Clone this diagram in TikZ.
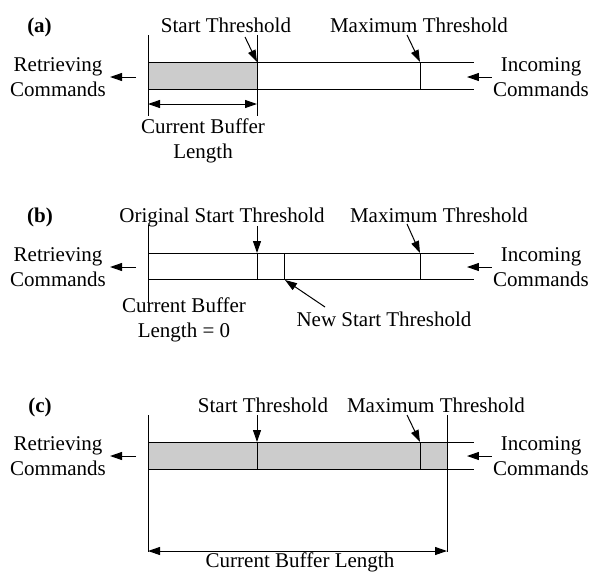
\documentclass[tikz,border=0pt]{standalone}
\usepackage{fontspec}
\setmainfont{Liberation Serif}
\usepackage{tikz}
\usetikzlibrary{arrows.meta,positioning}
\definecolor{bufgray}{RGB}{204,204,204}
\tikzstyle{txt} = [font=\fontsize{21}{24.5}\selectfont, inner sep=0pt, align=center]
\tikzstyle{tag} = [txt, font=\fontsize{21}{24.5}\selectfont\bfseries, anchor=base]
\tikzstyle{wall} = [line width=1pt]
\tikzstyle{filled} = [fill=bufgray]
\tikzstyle{arrow} = [line width=1pt, -{Triangle[length=12pt,width=8pt]}]
\tikzstyle{dimarrow} = [line width=1pt, {Triangle[length=12pt,width=8pt]}-{Triangle[length=12pt,width=8pt]}]
\begin{document}
\begin{tikzpicture}[x=1pt, y=-1pt]
                \useasboundingbox (0,0) rectangle (591,571);

                % ---------------- (a) ----------------
                \node[tag] (a-tag) at (39.5,32) {(a)};
                \node[txt, anchor=base] (a-start) at (226,32) {Start Threshold};
                \node[txt, anchor=base] (a-max) at (419,32) {Maximum Threshold};
                \node[txt] (a-ret) at (58,77) {Retrieving\\Commands};
                \node[txt] (a-inc) at (541,77) {Incoming\\Commands};
                \node[txt] (a-len) at (203,141) {Current Buffer\\Length};

                % buffer
                \fill[filled] (148,62) rectangle (257,89);
                \draw[wall] (148,62) -- (474,62);
                \draw[wall] (148,89) -- (474,89);
                \draw[wall] (148,35) -- (148,116);
                \draw[wall] (257,35) -- (257,116);
                \draw[wall] (420,62) -- (420,89);
                \coordinate (a-st) at (257,62);
                \coordinate (a-mt) at (420,62);
                \coordinate (a-st-from) at (245,37);
                \coordinate (a-mt-from) at (407,35);
                \coordinate (a-len-l) at (148,104);
                \coordinate (a-len-r) at (257,104);

                % arrows
                \draw[arrow] ([xshift=30pt]a-ret.east) -- ([xshift=4pt]a-ret.east);
                \draw[arrow] ([xshift=-1pt]a-inc.west) -- ([xshift=-26pt]a-inc.west);
                \draw[arrow] (a-st-from) -- (a-st);
                \draw[arrow] (a-mt-from) -- (a-mt);
                \draw[dimarrow] (a-len-l) -- (a-len-r);

                % ---------------- (b) ----------------
                \node[tag] (b-tag) at (40,222) {(b)};
                \node[txt, anchor=base] (b-start) at (222,222) {Original Start Threshold};
                \node[txt, anchor=base] (b-max) at (439,222) {Maximum Threshold};
                \node[txt] (b-ret) at (58,267) {Retrieving\\Commands};
                \node[txt] (b-inc) at (541,267) {Incoming\\Commands};
                \node[txt] (b-len) at (184,320) {Current Buffer\\Length = 0};
                \node[txt, anchor=base] (b-new) at (384,326) {New Start Threshold};

                % buffer
                \draw[wall] (148,253) -- (474,253);
                \draw[wall] (148,279) -- (474,279);
                \draw[wall] (148,225) -- (148,303);
                \draw[wall] (257,253) -- (257,279);
                \draw[wall] (284,253) -- (284,279);
                \draw[wall] (420,253) -- (420,279);
                \coordinate (b-st) at (257,253);
                \coordinate (b-nt) at (285,280);
                \coordinate (b-mt) at (420,253);
                \coordinate (b-st-from) at (257,226);
                \coordinate (b-nt-from) at (325,307);
                \coordinate (b-mt-from) at (407,224);

                % arrows
                \draw[arrow] ([xshift=30pt]b-ret.east) -- ([xshift=4pt]b-ret.east);
                \draw[arrow] ([xshift=-1pt]b-inc.west) -- ([xshift=-26pt]b-inc.west);
                \draw[arrow] (b-st-from) -- (b-st);
                \draw[arrow] (b-mt-from) -- (b-mt);
                \draw[arrow] (b-nt-from) -- (b-nt);

                % ---------------- (c) ----------------
                \node[tag] (c-tag) at (40,412) {(c)};
                \node[txt, anchor=base] (c-start) at (263,412) {Start Threshold};
                \node[txt, anchor=base] (c-max) at (436,412) {Maximum Threshold};
                \node[txt] (c-ret) at (58,456) {Retrieving\\Commands};
                \node[txt] (c-inc) at (541,456) {Incoming\\Commands};
                \node[txt, anchor=base] (c-len) at (300,567) {Current Buffer Length};

                % buffer
                \fill[filled] (148,442) rectangle (447,469);
                \draw[wall] (148,442) -- (474,442);
                \draw[wall] (148,469) -- (474,469);
                \draw[wall] (148,415) -- (148,552);
                \draw[wall] (447,415) -- (447,552);
                \draw[wall] (257,442) -- (257,469);
                \draw[wall] (420,442) -- (420,469);
                \coordinate (c-st) at (257,442);
                \coordinate (c-mt) at (420,442);
                \coordinate (c-st-from) at (257,415);
                \coordinate (c-mt-from) at (407,415);
                \coordinate (c-len-l) at (148,551);
                \coordinate (c-len-r) at (447,551);

                % arrows
                \draw[arrow] ([xshift=30pt]c-ret.east) -- ([xshift=4pt]c-ret.east);
                \draw[arrow] ([xshift=-1pt]c-inc.west) -- ([xshift=-26pt]c-inc.west);
                \draw[arrow] (c-st-from) -- (c-st);
                \draw[arrow] (c-mt-from) -- (c-mt);
                \draw[dimarrow] (c-len-l) -- (c-len-r);
            \end{tikzpicture}
\end{document}
